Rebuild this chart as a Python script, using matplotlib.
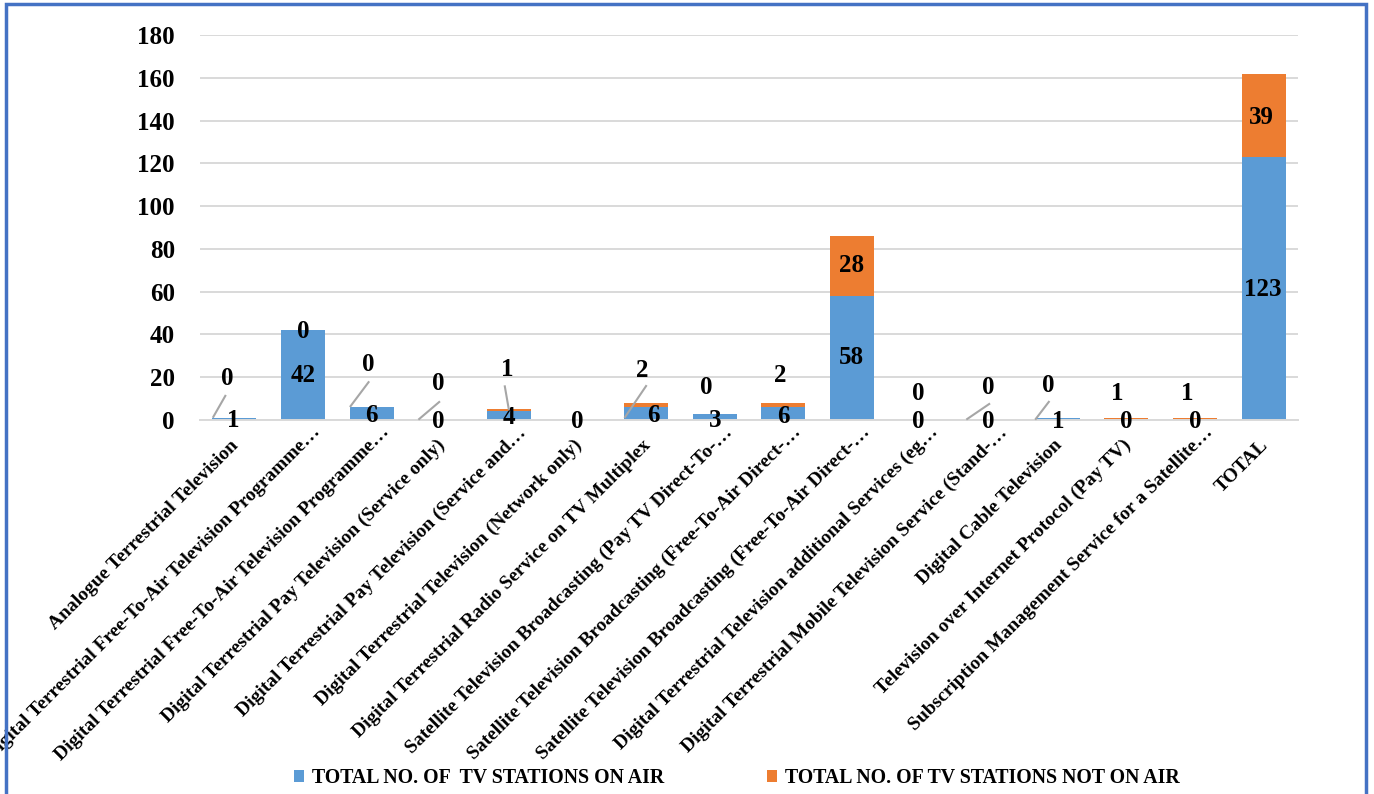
import matplotlib
matplotlib.use("Agg")
import matplotlib.pyplot as plt
from matplotlib.patches import Rectangle, Patch
from matplotlib.lines import Line2D
from matplotlib.transforms import IdentityTransform, ScaledTranslation

# ---- data -------------------------------------------------------------
categories = [
    "Analogue Terrestrial Television",
    "Digital Terrestrial Free-To-Air Television Programme…",
    "Digital Terrestrial Free-To-Air Television Programme…",
    "Digital Terrestrial Pay Television (Service only)",
    "Digital Terrestrial Pay Television (Service and…",
    "Digital Terrestrial Television (Network only)",
    "Digital Terrestrial Radio Service on TV Multiplex",
    "Satellite Television Broadcasting (Pay TV Direct-To-…",
    "Satellite Television Broadcasting (Free-To-Air Direct-…",
    "Satellite Television Broadcasting (Free-To-Air Direct-…",
    "Digital Terrestrial Television additional Services (eg…",
    "Digital Terrestrial Mobile Television Service (Stand-…",
    "Digital Cable Television",
    "Television over Internet Protocol (Pay TV)",
    "Subscription Management Service for a Satellite…",
    "TOTAL",
]
on_air = [1, 42, 6, 0, 4, 0, 6, 3, 6, 58, 0, 0, 1, 0, 0, 123]
not_on_air = [0, 0, 0, 0, 1, 0, 2, 0, 2, 28, 0, 0, 0, 1, 1, 39]
y_ticks = [0, 20, 40, 60, 80, 100, 120, 140, 160, 180]
legend_labels = ["TOTAL NO. OF  TV STATIONS ON AIR",
                 "TOTAL NO. OF TV STATIONS NOT ON AIR"]

# ---- styling ----------------------------------------------------------
BLUE = "#5B9BD5"
ORANGE = "#ED7D31"
GRID = "#D9D9D9"
LEADER = "#A6A6A6"
FRAME = "#4472C4"
SERIF = ["Liberation Serif", "DejaVu Serif"]
NUM_SIZE = 18

# data-label nudges in pixels (dx, dy) from the middle of each segment
on_offsets = [(-1, -2), (0, 0), (0, -2), (-2, -2), (0, -2), (0, -2), (7, -2),
              (0, -4), (0, -3), (0, 0), (-2, -2), (-1, -2), (0, -3), (0, -2),
              (0, -2), (-1, -1)]
off_offsets = [(-7, 39), (0, -1), (-3, 43), (-2, 36), (-2, 41), None, (-4, 35),
               (-8, 26), (-3, 30), (0, 0), (-2, 27), (-1, 33), (-10, 32),
               (-9, 25), (-8, 25), (-2, -2)]
# leader lines (start, end) in pixels relative to the upper segment middle
leaders = {
    0: ((-21, 1), (-9, 22)),
    2: ((-21, 1), (-3, 25)),
    3: ((-21, 1), (-1, 18)),
    4: ((0, 1), (-4, 24)),
    6: ((-21, -12), (0, 19)),
    11: ((-22, 1), (0, 16)),
    12: ((-22, -1), (-9, 16)),
}

W, H, DPI = 1374, 794, 100
fig = plt.figure(figsize=(W / DPI, H / DPI), dpi=DPI, facecolor="white")
ax = fig.add_axes([200 / W, 1 - 420 / H, (1298 - 200) / W, (420 - 35) / H])

x = list(range(len(categories)))
ax.bar(x, on_air, width=0.64, color=BLUE, zorder=2)
ax.bar(x, not_on_air, width=0.64, bottom=on_air, color=ORANGE, zorder=2)

ax.set_xlim(-0.5, len(categories) - 0.5)
ax.set_ylim(0, 180)
ax.set_yticks(y_ticks)
ax.yaxis.grid(True, color=GRID, linewidth=1.4, zorder=0)
ax.set_axisbelow(True)
for side in ("top", "right", "left"):
    ax.spines[side].set_visible(False)
ax.spines["bottom"].set_color(GRID)
ax.spines["bottom"].set_linewidth(1.4)
ax.tick_params(axis="both", length=0)
ax.tick_params(axis="y", pad=18)
for lab in ax.get_yticklabels():
    lab.set_fontfamily(SERIF)
    lab.set_fontweight("bold")
    lab.set_fontsize(NUM_SIZE)

ax.set_xticks(x)
ax.set_xticklabels(categories, rotation=45, ha="right", va="top",
                   rotation_mode="anchor", fontfamily=SERIF,
                   fontweight="bold", fontsize=14)
ax.tick_params(axis="x", pad=12)
# shortened (ellipsised) names sit a little further along the slant
for lab in ax.get_xticklabels():
    if lab.get_text().endswith("…"):
        shift = ScaledTranslation(9 / DPI, 13 / DPI, fig.dpi_scale_trans)
    else:
        shift = ScaledTranslation(-4 / DPI, 0, fig.dpi_scale_trans)
    lab.set_transform(lab.get_transform() + shift)

# data labels
for i in x:
    mid_on = on_air[i] / 2
    mid_off = on_air[i] + not_on_air[i] / 2
    dx, dy = on_offsets[i]
    ax.annotate(str(on_air[i]), xy=(i, mid_on), xytext=(dx, dy),
                textcoords="offset pixels", ha="center", va="center",
                fontfamily=SERIF, fontweight="bold", fontsize=NUM_SIZE,
                zorder=4)
    if off_offsets[i] is not None:
        dx, dy = off_offsets[i]
        ax.annotate(str(not_on_air[i]), xy=(i, mid_off), xytext=(dx, dy),
                    textcoords="offset pixels", ha="center", va="center",
                    fontfamily=SERIF, fontweight="bold", fontsize=NUM_SIZE,
                    zorder=4)

for i, (p0, p1) in leaders.items():
    cx, cy = ax.transData.transform((i, on_air[i] + not_on_air[i] / 2))
    line = Line2D([cx + p0[0], cx + p1[0]], [cy + p0[1], cy + p1[1]],
                  transform=IdentityTransform(), color=LEADER, linewidth=1.5,
                  zorder=3)
    fig.add_artist(line)

# legend
handles = [Patch(facecolor=BLUE), Patch(facecolor=ORANGE)]
fig.legend(handles, legend_labels, loc="center", ncol=2,
           bbox_to_anchor=(737 / W, 1 - 778 / H), frameon=False,
           handlelength=0.5, handleheight=0.5, handletextpad=0.4,
           columnspacing=5.2,
           prop={"family": SERIF, "weight": "bold", "size": 14.3})

# outer frame
fig.add_artist(Rectangle((6 / W, -0.05), (1366 - 6) / W, 1.05 - 4 / H,
                         transform=fig.transFigure, fill=False,
                         edgecolor=FRAME, linewidth=2.5, clip_on=False))

fig.savefig("out.png", dpi=DPI, facecolor="white")
